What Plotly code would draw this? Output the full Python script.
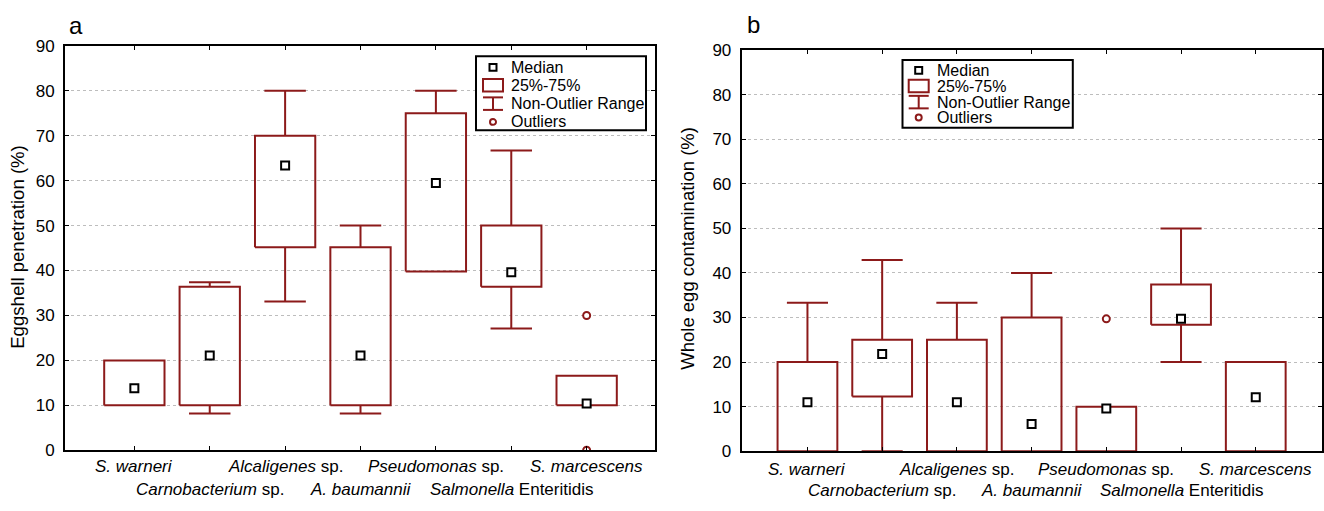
import plotly.graph_objects as go

categories = ["<i>S. warneri</i>", "<i>Carnobacterium</i> sp.", "<i>Alcaligenes</i> sp.",
              "<i>A. baumannii</i>", "<i>Pseudomonas</i> sp.", "<i>Salmonella</i> Enteritidis",
              "<i>S. marcescens</i>"]

# Panel a: Eggshell penetration (%)
a_q1 = [10, 10, 45.2, 10, 39.8, 36.4, 10]
a_median = [13.8, 21.1, 63.4, 21.1, 59.5, 39.6, 10.4]
a_q3 = [20, 36.4, 70, 45.2, 75, 50, 16.6]
a_low = [10, 8.2, 33.1, 8.2, 39.8, 27.1, 10]
a_high = [20, 37.4, 80, 50, 80, 66.7, 16.6]
a_out_cat = [6, 6]
a_out_val = [30, 0]

# Panel b: Whole egg contamination (%)
b_q1 = [0, 12.3, 0, 0, 0, 28.4, 0]
b_median = [11, 21.8, 11, 6.1, 9.6, 29.7, 12.1]
b_q3 = [20, 25, 25, 30, 10, 37.4, 20]
b_low = [0, 0, 0, 0, 0, 20, 0]
b_high = [33.3, 42.9, 33.3, 40, 10, 50, 20]
b_out_cat = [4]
b_out_val = [29.7]

y_ticks = [0, 10, 20, 30, 40, 50, 60, 70, 80, 90]

RED = "#8c1a1a"
FONT = "Liberation Sans, Arial, sans-serif"
W, H = 1324, 511
BOX_W = 0.8
CAP_W = 0.55

fig = go.Figure()


def add_panel(q1, med, q3, low, high, oc, ov, xa, ya):
    bx, by = [], []
    wx, wy = [], []
    for i in range(len(q1)):
        l, r = i - BOX_W / 2, i + BOX_W / 2
        bx += [l, r, r, l, l, None]
        by += [q1[i], q1[i], q3[i], q3[i], q1[i], None]
        if high[i] > q3[i]:
            wx += [i, i, None, i - CAP_W / 2, i + CAP_W / 2, None]
            wy += [q3[i], high[i], None, high[i], high[i], None]
        if low[i] < q1[i]:
            wx += [i, i, None, i - CAP_W / 2, i + CAP_W / 2, None]
            wy += [q1[i], low[i], None, low[i], low[i], None]
    fig.add_trace(go.Scatter(x=wx, y=wy, mode="lines", line=dict(color=RED, width=2),
                             xaxis=xa, yaxis=ya, showlegend=False, hoverinfo="skip"))
    fig.add_trace(go.Scatter(x=bx, y=by, mode="lines", line=dict(color=RED, width=2),
                             xaxis=xa, yaxis=ya, showlegend=False, hoverinfo="skip"))
    fig.add_trace(go.Scatter(x=list(range(len(med))), y=med, mode="markers",
                             marker=dict(symbol="square", size=8, color="white",
                                         line=dict(color="black", width=2)),
                             xaxis=xa, yaxis=ya, showlegend=False))
    fig.add_trace(go.Scatter(x=oc, y=ov, mode="markers",
                             marker=dict(symbol="circle", size=7, color="white",
                                         line=dict(color=RED, width=2)),
                             xaxis=xa, yaxis=ya, showlegend=False))


add_panel(a_q1, a_median, a_q3, a_low, a_high, a_out_cat, a_out_val, "x", "y")
add_panel(b_q1, b_median, b_q3, b_low, b_high, b_out_cat, b_out_val, "x2", "y2")

xcommon = dict(showline=True, mirror="ticks", linecolor="black", linewidth=2,
               ticks="inside", ticklen=4, tickcolor="black", tickwidth=1,
               tickvals=list(range(len(categories))), showticklabels=False,
               showgrid=False, zeroline=False, fixedrange=True)
ycommon = dict(showline=True, mirror="ticks", linecolor="black", linewidth=2,
               ticks="inside", ticklen=4, tickcolor="black", tickwidth=1,
               tickvals=y_ticks, range=[0, 90], showgrid=True, gridcolor="#bdbdbd",
               griddash="dot", gridwidth=1, zeroline=False,
               tickfont=dict(family=FONT, size=17, color="black"),
               ticklabelstandoff=5, fixedrange=True)

fig.update_layout(
    width=W, height=H, margin=dict(l=0, r=0, t=0, b=0),
    paper_bgcolor="white", plot_bgcolor="white",
    font=dict(family=FONT, color="black"),
    xaxis=dict(domain=[65 / W, 654.5 / W], range=[-0.92, 6.9], anchor="y", **xcommon),
    yaxis=dict(domain=[1 - 458.3 / H, 1 - 38.3 / H], anchor="x", **ycommon),
    xaxis2=dict(domain=[741.7 / W, 1321.5 / W], range=[-0.88, 6.88], anchor="y2", **xcommon),
    yaxis2=dict(domain=[1 - 459.3 / H, 1 - 42.7 / H], anchor="x2", **ycommon),
)

ann = []
shapes = []


def px(x):
    return x / W


def py(y):
    return 1 - y / H


# category labels, staggered in two rows
for xa, r1, r2 in [("x", 475.5, 499.5), ("x2", 478, 500.5)]:
    for i, c in enumerate(categories):
        ann.append(dict(x=i, xref=xa, y=py(r1 if i % 2 == 0 else r2), yref="paper",
                        text=c, showarrow=False, xanchor="center", yanchor="middle",
                        font=dict(family=FONT, size=17, color="black")))

# axis titles
ann.append(dict(x=px(17.5), y=py(247.5), xref="paper", yref="paper",
                text="Eggshell penetration (%)", textangle=-90, showarrow=False,
                xanchor="center", yanchor="middle",
                font=dict(family=FONT, size=18.6, color="black")))
ann.append(dict(x=px(688), y=py(249), xref="paper", yref="paper",
                text="Whole egg contamination (%)", textangle=-90, showarrow=False,
                xanchor="center", yanchor="middle",
                font=dict(family=FONT, size=18.5, color="black")))

# panel letters
ann.append(dict(x=px(75.5), y=py(17), xref="paper", yref="paper", text="a",
                xanchor="center", yanchor="middle",
                showarrow=False, font=dict(family=FONT, size=24, color="black")))
ann.append(dict(x=px(753.5), y=py(16), xref="paper", yref="paper", text="b",
                xanchor="center", yanchor="middle",
                showarrow=False, font=dict(family=FONT, size=24, color="black")))

# legends
legend_labels = ["Median", "25%-75%", "Non-Outlier Range", "Outliers"]
for (bx0, by0, bx1, by1, rows, sx, tx) in [
    (476, 49, 646, 126, [60.7, 79.3, 98.3, 117.3], 493, 509.3),
    (902.5, 53, 1072.8, 123.3, [63.7, 80, 96.7, 112.7], 918.7, 934.5),
]:
    shapes.append(dict(type="rect", xref="paper", yref="paper",
                       x0=px(bx0), x1=px(bx1), y0=py(by1), y1=py(by0),
                       line=dict(color="black", width=2), fillcolor="white", layer="above"))
    shapes.append(dict(type="rect", xref="paper", yref="paper",
                       x0=px(sx - 3.5), x1=px(sx + 3.5), y0=py(rows[0] + 3.5), y1=py(rows[0] - 3.5),
                       line=dict(color="black", width=2), fillcolor="white", layer="above"))
    shapes.append(dict(type="rect", xref="paper", yref="paper",
                       x0=px(sx - 10), x1=px(sx + 10), y0=py(rows[1] + 6.5), y1=py(rows[1] - 6.5),
                       line=dict(color=RED, width=2), fillcolor="white", layer="above"))
    for yy in (rows[2] - 6.5, rows[2] + 6.5):
        shapes.append(dict(type="line", xref="paper", yref="paper",
                           x0=px(sx - 10), x1=px(sx + 10), y0=py(yy), y1=py(yy),
                           line=dict(color=RED, width=2), layer="above"))
    shapes.append(dict(type="line", xref="paper", yref="paper",
                       x0=px(sx), x1=px(sx), y0=py(rows[2] - 6.5), y1=py(rows[2] + 6.5),
                       line=dict(color=RED, width=2), layer="above"))
    shapes.append(dict(type="circle", xref="paper", yref="paper",
                       x0=px(sx - 3), x1=px(sx + 3), y0=py(rows[3] + 3), y1=py(rows[3] - 3),
                       line=dict(color=RED, width=2), fillcolor="white", layer="above"))
    for lab, ry in zip(legend_labels, rows):
        ann.append(dict(x=px(tx), y=py(ry), xref="paper", yref="paper", text=lab,
                        showarrow=False, xanchor="left", yanchor="middle",
                        font=dict(family=FONT, size=16, color="black")))

fig.update_layout(annotations=ann, shapes=shapes)
fig.write_html("out.html", config={"displayModeBar": False},
               post_script="document.body.style.margin='0';document.body.style.overflow='hidden';")
